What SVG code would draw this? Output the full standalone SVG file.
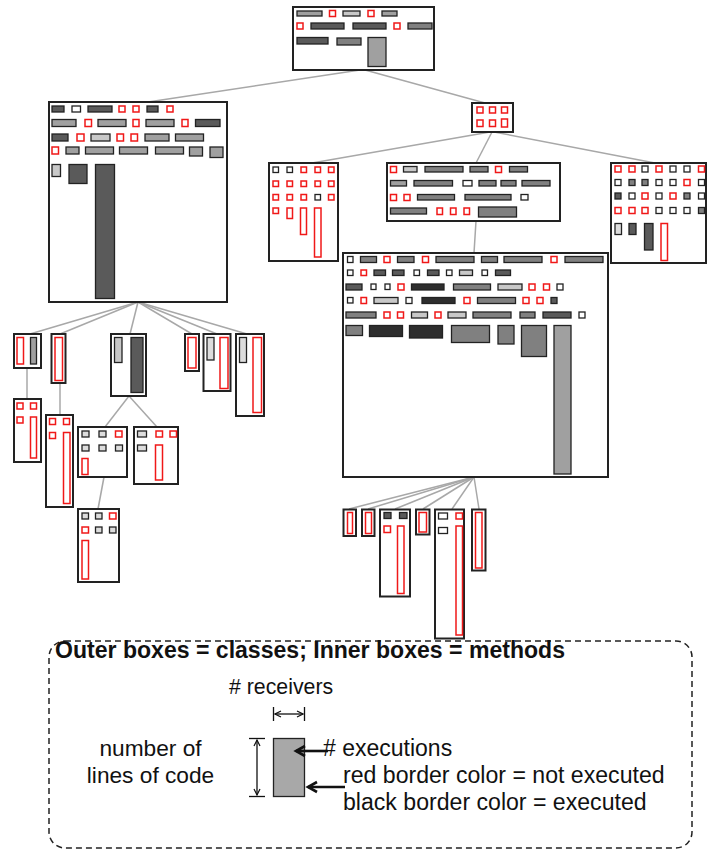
<svg xmlns="http://www.w3.org/2000/svg" width="707" height="849" viewBox="0 0 707 849">
<defs>
<style>
.cls{fill:#fff;stroke:#222;stroke-width:2}
rect.w,rect.x,rect.l,rect.g,rect.m,rect.d,rect.k{stroke:#222;stroke-width:1.3}
.w{fill:#fff}.x{fill:#ddd}.l{fill:#c8c8c8}.g{fill:#a0a0a0}.m{fill:#808080}.d{fill:#5a5a5a}.k{fill:#2e2e2e}
.r{fill:#fff;stroke:#f01818;stroke-width:1.5}
.edge{stroke:#a8a8a8;stroke-width:1.5;fill:none}
.t{font-family:"Liberation Sans",Arial,sans-serif;fill:#111}
.ln{stroke:#111;stroke-width:1.3;fill:none}
</style>
<marker id="ah" markerWidth="8" markerHeight="8" refX="7" refY="4" orient="auto-start-reverse" markerUnits="userSpaceOnUse">
<path d="M1,1 L7,4 L1,7" fill="none" stroke="#111" stroke-width="1.2"/>
</marker>
<marker id="ahb" markerWidth="14" markerHeight="14" refX="11" refY="7" orient="auto" markerUnits="userSpaceOnUse">
<path d="M2,2 L11,7 L2,12" fill="none" stroke="#111" stroke-width="2.6"/>
</marker>
</defs>

<g id="connectors">
<line class="edge" x1="360" y1="70" x2="148" y2="102"/>
<line class="edge" x1="365" y1="70" x2="485" y2="103"/>
<line class="edge" x1="490" y1="132" x2="312" y2="163"/>
<line class="edge" x1="492" y1="132" x2="476" y2="163"/>
<line class="edge" x1="494" y1="132" x2="655" y2="163"/>
<line class="edge" x1="476" y1="221" x2="474" y2="253"/>
<line class="edge" x1="138" y1="302" x2="30" y2="334"/>
<line class="edge" x1="138" y1="302" x2="60" y2="334"/>
<line class="edge" x1="138" y1="302" x2="130" y2="334"/>
<line class="edge" x1="138" y1="302" x2="192" y2="334"/>
<line class="edge" x1="138" y1="302" x2="217" y2="334"/>
<line class="edge" x1="138" y1="302" x2="247" y2="334"/>
<line class="edge" x1="27" y1="368" x2="27" y2="399"/>
<line class="edge" x1="60" y1="383" x2="60" y2="415"/>
<line class="edge" x1="129" y1="396" x2="105" y2="427"/>
<line class="edge" x1="129" y1="396" x2="157" y2="427"/>
<line class="edge" x1="104" y1="477" x2="98" y2="509"/>
<line class="edge" x1="474" y1="477" x2="349" y2="509"/>
<line class="edge" x1="474" y1="477" x2="368" y2="509"/>
<line class="edge" x1="474" y1="477" x2="395" y2="509"/>
<line class="edge" x1="474" y1="477" x2="423" y2="509"/>
<line class="edge" x1="474" y1="477" x2="452" y2="509"/>
<line class="edge" x1="474" y1="477" x2="479" y2="509"/>
</g>

<g id="root">
<rect class="cls" x="293" y="7" width="141" height="63"/>
<rect class="g" x="297" y="11" width="25" height="5"/>
<rect class="r" x="329.5" y="10.5" width="6" height="6"/>
<rect class="l" x="343" y="11" width="17" height="5"/>
<rect class="r" x="368" y="10.5" width="6" height="6"/>
<rect class="g" x="382" y="11" width="15" height="5"/>
<rect class="r" x="297" y="23" width="6" height="6"/>
<rect class="d" x="311" y="23" width="33" height="6"/>
<rect class="d" x="353" y="23" width="33" height="6"/>
<rect class="r" x="394" y="23" width="6" height="6"/>
<rect class="m" x="408" y="23" width="24" height="6"/>
<rect class="d" x="297" y="37.5" width="31" height="6.5"/>
<rect class="m" x="337" y="38" width="24" height="7"/>
<rect class="g" x="368" y="37.5" width="18" height="29"/>
</g>

<g id="classLeft">
<rect class="cls" x="49" y="102" width="178" height="200"/>
<rect class="d" x="52" y="106" width="12" height="6"/>
<rect class="w" x="72" y="106" width="8.5" height="6"/>
<rect class="d" x="88" y="106" width="24" height="6"/>
<rect class="r" x="119" y="106" width="6" height="6"/>
<rect class="r" x="133" y="106" width="6" height="6"/>
<rect class="d" x="147" y="106" width="11" height="6"/>
<rect class="r" x="167" y="106" width="6" height="6"/>
<rect class="g" x="52" y="119.5" width="24" height="7"/>
<rect class="r" x="85" y="119.5" width="6.5" height="7"/>
<rect class="g" x="98" y="119.5" width="28" height="7"/>
<rect class="r" x="133" y="119.5" width="6" height="7"/>
<rect class="g" x="146" y="119.5" width="28" height="7"/>
<rect class="r" x="182" y="119.5" width="6" height="7"/>
<rect class="d" x="195.5" y="119.5" width="24.5" height="7"/>
<rect class="d" x="52" y="134" width="16" height="7"/>
<rect class="r" x="77" y="134" width="7" height="7"/>
<rect class="l" x="91" y="134" width="19" height="7"/>
<rect class="r" x="117" y="134" width="6.5" height="7"/>
<rect class="r" x="131" y="134" width="6.5" height="7"/>
<rect class="g" x="145" y="134" width="24" height="7"/>
<rect class="g" x="175.5" y="134" width="28" height="7"/>
<rect class="r" x="52" y="147" width="6.5" height="7"/>
<rect class="g" x="66" y="147" width="13" height="7"/>
<rect class="g" x="85.5" y="147" width="28" height="7"/>
<rect class="g" x="119.5" y="147" width="28" height="7"/>
<rect class="g" x="155.5" y="147" width="28" height="7"/>
<rect class="g" x="189.5" y="147" width="13" height="9"/>
<rect class="g" x="210" y="147" width="13" height="10.5"/>
<rect class="l" x="52" y="164.5" width="8.5" height="12"/>
<rect class="d" x="69" y="164.5" width="18" height="19"/>
<rect class="d" x="95.5" y="164.5" width="19" height="134"/>
</g>

<g id="classSmall">
<rect class="cls" x="472" y="103" width="41" height="29"/>
<rect class="r" x="477" y="107" width="6" height="6"/>
<rect class="r" x="489.5" y="107" width="6" height="6"/>
<rect class="r" x="501.5" y="107" width="6" height="6"/>
<rect class="r" x="477" y="120" width="6" height="6.5"/>
<rect class="r" x="489.5" y="120" width="6" height="6.5"/>
<rect class="r" x="501.5" y="119" width="6" height="8"/>
</g>

<g id="classA">
<rect class="cls" x="269" y="163" width="69" height="98"/>
<rect class="w" x="273" y="167" width="5.5" height="5.5"/>
<rect class="w" x="287" y="167" width="5.5" height="5.5"/>
<rect class="r" x="301" y="167" width="5.5" height="5.5"/>
<rect class="r" x="315" y="167" width="5.5" height="5.5"/>
<rect class="r" x="328.5" y="167" width="5.5" height="5.5"/>
<rect class="r" x="273" y="181" width="5.5" height="5.5"/>
<rect class="r" x="287" y="181" width="5.5" height="5.5"/>
<rect class="r" x="301" y="181" width="5.5" height="5.5"/>
<rect class="r" x="315" y="181" width="5.5" height="5.5"/>
<rect class="r" x="328.5" y="181" width="5.5" height="5.5"/>
<rect class="r" x="273" y="194.5" width="5.5" height="5.5"/>
<rect class="r" x="287" y="194.5" width="5.5" height="5.5"/>
<rect class="r" x="301" y="194.5" width="5.5" height="5.5"/>
<rect class="w" x="315" y="194.5" width="5.5" height="5.5"/>
<rect class="r" x="328.5" y="194.5" width="5.5" height="5.5"/>
<rect class="r" x="273" y="208" width="5.5" height="5.5"/>
<rect class="r" x="287" y="208" width="5.5" height="10.5"/>
<rect class="r" x="300.5" y="208" width="6" height="26.5"/>
<rect class="r" x="314.5" y="208" width="6.5" height="49"/>
</g>

<g id="classB">
<rect class="cls" x="387" y="163" width="173" height="58"/>
<rect class="r" x="390.5" y="166.5" width="6" height="6"/>
<rect class="l" x="403.5" y="166.5" width="13.5" height="5.5"/>
<rect class="m" x="425" y="166.5" width="38" height="5.5"/>
<rect class="m" x="470" y="166.5" width="18" height="5.5"/>
<rect class="r" x="495.5" y="166.5" width="6" height="6"/>
<rect class="m" x="509.5" y="166.5" width="18" height="5.5"/>
<rect class="g" x="390.5" y="180.5" width="16" height="5.5"/>
<rect class="m" x="414" y="180.5" width="38.5" height="5.5"/>
<rect class="w" x="463" y="180.5" width="9" height="5.5"/>
<rect class="m" x="479" y="180.5" width="17" height="5.5"/>
<rect class="m" x="501" y="180.5" width="15" height="5.5"/>
<rect class="m" x="522" y="180.5" width="28" height="5.5"/>
<rect class="r" x="390.5" y="194.5" width="6" height="6"/>
<rect class="r" x="404" y="194.5" width="6" height="6"/>
<rect class="m" x="417.5" y="194.5" width="37" height="5.5"/>
<rect class="m" x="465" y="194.5" width="46" height="5.5"/>
<rect class="w" x="521" y="194.5" width="7" height="5.5"/>
<rect class="m" x="390.5" y="208" width="36" height="6"/>
<rect class="r" x="437" y="208" width="5.5" height="6.5"/>
<rect class="r" x="450.5" y="208" width="5.5" height="6.5"/>
<rect class="r" x="464" y="208" width="5.5" height="6.5"/>
<rect class="m" x="478.5" y="207" width="38" height="10"/>
</g>

<g id="classC">
<rect class="cls" x="611" y="163" width="95" height="100"/>
<rect class="r" x="615" y="166" width="6" height="6"/>
<rect class="r" x="629" y="166" width="6" height="6"/>
<rect class="w" x="642" y="166" width="6" height="6"/>
<rect class="r" x="656" y="166" width="6" height="6"/>
<rect class="w" x="670" y="166" width="6" height="6"/>
<rect class="w" x="684" y="166" width="6" height="6"/>
<rect class="r" x="698.5" y="166" width="6" height="6"/>
<rect class="w" x="615" y="179.5" width="6" height="6"/>
<rect class="m" x="629" y="179.5" width="6" height="6"/>
<rect class="m" x="642" y="179.5" width="6" height="6"/>
<rect class="w" x="656" y="179.5" width="6" height="6"/>
<rect class="w" x="670" y="179.5" width="6" height="6"/>
<rect class="r" x="684" y="179.5" width="6" height="6"/>
<rect class="w" x="698.5" y="179.5" width="6" height="6"/>
<rect class="d" x="615" y="193" width="6" height="6"/>
<rect class="w" x="629" y="193" width="6" height="6"/>
<rect class="r" x="642" y="193" width="6" height="6"/>
<rect class="w" x="656" y="193" width="6" height="6"/>
<rect class="r" x="670" y="193" width="6" height="6"/>
<rect class="m" x="684" y="193" width="6" height="6"/>
<rect class="w" x="698.5" y="193" width="6" height="6"/>
<rect class="r" x="615" y="207.5" width="6" height="6"/>
<rect class="r" x="629" y="207.5" width="6" height="6"/>
<rect class="r" x="642" y="207.5" width="6" height="6"/>
<rect class="w" x="656" y="207.5" width="6" height="6"/>
<rect class="w" x="670" y="207.5" width="6" height="6"/>
<rect class="w" x="684" y="207.5" width="6" height="6"/>
<rect class="m" x="698.5" y="207.5" width="6" height="6"/>
<rect class="x" x="615" y="223.5" width="6.5" height="11"/>
<rect class="d" x="629" y="223.5" width="7" height="11"/>
<rect class="d" x="644.5" y="223.5" width="8.5" height="26.5"/>
<rect class="r" x="661" y="223.5" width="6.5" height="37"/>
</g>

<g id="classD">
<rect class="cls" x="343" y="253" width="265" height="224"/>
<rect class="w" x="347.5" y="256.5" width="5.5" height="6"/>
<rect class="m" x="360.5" y="256.5" width="16" height="6"/>
<rect class="r" x="384" y="256.5" width="6" height="6"/>
<rect class="m" x="397.5" y="256.5" width="16.5" height="6"/>
<rect class="r" x="422.5" y="256.5" width="6" height="6"/>
<rect class="m" x="436" y="256.5" width="38" height="6"/>
<rect class="m" x="481.5" y="256.5" width="16" height="6"/>
<rect class="m" x="504" y="256.5" width="38" height="6"/>
<rect class="r" x="551" y="256.5" width="6" height="6"/>
<rect class="m" x="565" y="256.5" width="38" height="6"/>
<rect class="w" x="347.5" y="270" width="5.5" height="5.5"/>
<rect class="r" x="361" y="270" width="5.5" height="5.5"/>
<rect class="d" x="374" y="270" width="11.5" height="5.5"/>
<rect class="d" x="392.5" y="270" width="11.5" height="5.5"/>
<rect class="w" x="414" y="270" width="5.5" height="5.5"/>
<rect class="d" x="427.5" y="270" width="11.5" height="5.5"/>
<rect class="w" x="446.5" y="270" width="5.5" height="5.5"/>
<rect class="l" x="459.5" y="270" width="13" height="5.5"/>
<rect class="w" x="482" y="270" width="5.5" height="5.5"/>
<rect class="d" x="495.5" y="270" width="15" height="5.5"/>
<rect class="d" x="346" y="284" width="16" height="6"/>
<rect class="w" x="371" y="284" width="5" height="5.5"/>
<rect class="w" x="385" y="284" width="5" height="5.5"/>
<rect class="r" x="398" y="284" width="6" height="6"/>
<rect class="k" x="411.5" y="284" width="32.5" height="6"/>
<rect class="m" x="453.5" y="284" width="37" height="6"/>
<rect class="l" x="498" y="284" width="24" height="6"/>
<rect class="r" x="529" y="284" width="6" height="6"/>
<rect class="r" x="543.5" y="284" width="6" height="6"/>
<rect class="w" x="557" y="284" width="6" height="6"/>
<rect class="w" x="347.5" y="297.5" width="5.5" height="5.5"/>
<rect class="r" x="361" y="297.5" width="5.5" height="6"/>
<rect class="l" x="374" y="297.5" width="24" height="6"/>
<rect class="w" x="406" y="297.5" width="6" height="6"/>
<rect class="k" x="422" y="297.5" width="33" height="6"/>
<rect class="r" x="464" y="297.5" width="6" height="6"/>
<rect class="m" x="477.5" y="297.5" width="38" height="6"/>
<rect class="r" x="523" y="297.5" width="6" height="6"/>
<rect class="r" x="537" y="297.5" width="6" height="6"/>
<rect class="d" x="551" y="297.5" width="6" height="6"/>
<rect class="m" x="346" y="312" width="30" height="6"/>
<rect class="r" x="384" y="312" width="6" height="6"/>
<rect class="r" x="397.5" y="312" width="6" height="6"/>
<rect class="l" x="411.5" y="312" width="16" height="6"/>
<rect class="r" x="435" y="312" width="6" height="6"/>
<rect class="l" x="448" y="312" width="18" height="6"/>
<rect class="m" x="473" y="312" width="38" height="6"/>
<rect class="m" x="520" y="312" width="15" height="6"/>
<rect class="d" x="543" y="312" width="28" height="6"/>
<rect class="w" x="579" y="312" width="6" height="6"/>
<rect class="m" x="346" y="325.5" width="16.5" height="10"/>
<rect class="k" x="369.5" y="325.5" width="33" height="11"/>
<rect class="k" x="409.5" y="325.5" width="33" height="12.5"/>
<rect class="m" x="451.5" y="325.5" width="38" height="17"/>
<rect class="m" x="498" y="325.5" width="16" height="18.5"/>
<rect class="m" x="521.5" y="325.5" width="25" height="31"/>
<rect class="g" x="554" y="325.5" width="17" height="148.5"/>
</g>

<g id="L1">
<rect class="cls" x="14" y="334" width="27" height="34"/>
<rect class="r" x="17" y="337.5" width="6.5" height="26.5"/>
<rect class="g" x="30.5" y="337.5" width="6" height="26.5"/>
</g>
<g id="L1c">
<rect class="cls" x="14" y="399" width="27" height="63"/>
<rect class="r" x="17" y="403" width="6" height="6"/>
<rect class="r" x="30.5" y="403" width="6" height="6"/>
<rect class="r" x="17" y="417" width="6" height="6"/>
<rect class="r" x="30.5" y="417" width="6" height="41"/>
</g>
<g id="L2">
<rect class="cls" x="51.5" y="334" width="14" height="49"/>
<rect class="r" x="55" y="337.5" width="7.5" height="43"/>
</g>
<g id="L2c">
<rect class="cls" x="46" y="415" width="27" height="92"/>
<rect class="r" x="49.5" y="418.5" width="6" height="6"/>
<rect class="r" x="63.5" y="418.5" width="6" height="6"/>
<rect class="r" x="49.5" y="432.5" width="6" height="6"/>
<rect class="r" x="63.5" y="432.5" width="6.5" height="71"/>
</g>
<g id="L3">
<rect class="cls" x="111" y="334" width="35" height="62"/>
<rect class="l" x="114.5" y="337.5" width="7.5" height="25"/>
<rect class="d" x="131" y="337.5" width="12" height="55"/>
</g>
<g id="L3a">
<rect class="cls" x="78" y="427" width="49" height="50"/>
<rect class="x" x="82" y="431" width="7" height="6"/>
<rect class="x" x="99" y="431" width="7" height="6"/>
<rect class="r" x="115.5" y="431" width="6.5" height="6"/>
<rect class="x" x="82" y="445" width="7" height="6"/>
<rect class="x" x="99" y="445" width="7" height="6"/>
<rect class="x" x="115.5" y="445" width="7" height="6"/>
<rect class="r" x="82" y="458.5" width="6" height="16"/>
</g>
<g id="L3b">
<rect class="cls" x="134" y="427" width="44" height="57"/>
<rect class="x" x="137.5" y="431" width="9" height="6"/>
<rect class="r" x="156" y="431" width="6.5" height="6"/>
<rect class="r" x="170" y="431" width="6.5" height="6"/>
<rect class="x" x="137.5" y="445" width="9" height="6"/>
<rect class="r" x="155.5" y="445" width="7" height="35"/>
</g>
<g id="L3a1">
<rect class="cls" x="78" y="509" width="41" height="73"/>
<rect class="x" x="82" y="513" width="6.5" height="6"/>
<rect class="x" x="95.5" y="513" width="6.5" height="6"/>
<rect class="r" x="109.5" y="513" width="6.5" height="6"/>
<rect class="r" x="82" y="527" width="6.5" height="6"/>
<rect class="x" x="95.5" y="527" width="6.5" height="6"/>
<rect class="x" x="109.5" y="527" width="6.5" height="6"/>
<rect class="r" x="82" y="540.5" width="6.5" height="38.5"/>
</g>
<g id="L4">
<rect class="cls" x="185" y="334" width="14" height="37"/>
<rect class="r" x="188" y="337.5" width="8" height="30.5"/>
</g>
<g id="L5">
<rect class="cls" x="203.5" y="334" width="27" height="57"/>
<rect class="x" x="207" y="337.5" width="7" height="22.5"/>
<rect class="r" x="220" y="337.5" width="8" height="51"/>
</g>
<g id="L6">
<rect class="cls" x="236" y="334" width="28" height="82"/>
<rect class="x" x="239.5" y="337.5" width="7" height="25"/>
<rect class="r" x="253" y="337.5" width="8.5" height="75"/>
</g>

<g id="C1">
<rect class="cls" x="343.5" y="509.5" width="12.5" height="26.5"/>
<rect class="r" x="347.5" y="512.5" width="5" height="21"/>
</g>
<g id="C2">
<rect class="cls" x="362" y="509.5" width="12.5" height="26.5"/>
<rect class="r" x="365.5" y="512.5" width="6" height="21"/>
</g>
<g id="C3">
<rect class="cls" x="380" y="509.5" width="30" height="87"/>
<rect class="d" x="384" y="512.5" width="7" height="6"/>
<rect class="d" x="399.5" y="512.5" width="7.5" height="6"/>
<rect class="r" x="384" y="526" width="6.5" height="6.5"/>
<rect class="r" x="397.5" y="526" width="6.5" height="67.5"/>
</g>
<g id="C4">
<rect class="cls" x="416" y="509.5" width="13.5" height="25"/>
<rect class="r" x="419" y="512.5" width="7.5" height="19.5"/>
</g>
<g id="C5">
<rect class="cls" x="435" y="509.5" width="29" height="129"/>
<rect class="w" x="438.5" y="513" width="9" height="6"/>
<rect class="w" x="438.5" y="527.5" width="9" height="6"/>
<rect class="r" x="456" y="513" width="6.5" height="6"/>
<rect class="r" x="456" y="526" width="6.5" height="109"/>
</g>
<g id="C6">
<rect class="cls" x="472" y="509.5" width="13.5" height="61"/>
<rect class="r" x="475.5" y="512.5" width="6.5" height="55.5"/>
</g>

<g id="legend">
<rect x="49" y="641" width="643" height="207" rx="16" ry="16" fill="none" stroke="#222" stroke-width="1.5" stroke-dasharray="6,4"/>
<text class="t" x="55" y="658" font-size="23" font-weight="bold" textLength="510" lengthAdjust="spacingAndGlyphs">Outer boxes = classes; Inner boxes = methods</text>
<text class="t" x="229" y="694" font-size="21.3">&#35; receivers</text>
<line class="ln" x1="273.5" y1="707" x2="273.5" y2="721"/>
<line class="ln" x1="304.5" y1="707" x2="304.5" y2="721"/>
<line class="ln" x1="275" y1="714" x2="303" y2="714" marker-start="url(#ah)" marker-end="url(#ah)"/>
<line class="ln" x1="249" y1="738.5" x2="265" y2="738.5"/>
<line class="ln" x1="249" y1="796.5" x2="265" y2="796.5"/>
<line class="ln" x1="257" y1="740" x2="257" y2="795" marker-start="url(#ah)" marker-end="url(#ah)"/>
<rect x="273.5" y="738.5" width="31" height="58" fill="#a8a8a8" stroke="#222" stroke-width="1.3"/>
<line x1="328" y1="751" x2="296" y2="751" stroke="#111" stroke-width="2.6" marker-end="url(#ahb)"/>
<line x1="345" y1="787" x2="308" y2="787" stroke="#111" stroke-width="2.6" marker-end="url(#ahb)"/>
<text class="t" x="150.5" y="756" font-size="22.7" text-anchor="middle">number of</text>
<text class="t" x="150.5" y="783" font-size="22.7" text-anchor="middle">lines of code</text>
<text class="t" x="323" y="756" font-size="23">&#35; executions</text>
<text class="t" x="343" y="783" font-size="23.1">red border color = not executed</text>
<text class="t" x="343" y="810" font-size="23.1">black border color = executed</text>
</g>
</svg>
